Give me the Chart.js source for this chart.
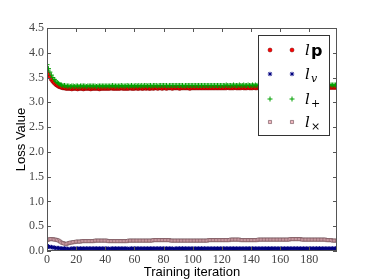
<!DOCTYPE html>
<html lang="en">
  <head>
    <meta charset="UTF-8" />
    <script src="https://cdn.jsdelivr.net/npm/chart.js@4.4.0/dist/chart.umd.min.js"></script>
    <title>Loss Value vs Training iteration</title>
    <style>
      body { margin: 0; padding: 0; background: #fff; }
      .container { width: 374px; height: 280px; position: relative; }
    </style>
  </head>
  <body>
    <div class="container">
      <canvas id="lossChart"></canvas>
    </div>
    <script>
      const yTicks = [0, 0.5, 1, 1.5, 2, 2.5, 3, 3.5, 4, 4.5]
      const xTicks = [0, 20, 40, 60, 80, 100, 120, 140, 160, 180]

      // l_p
      const lossP = [
        3.64,3.57,3.51,3.46,3.42,3.39,3.36,3.34,3.32,3.31,3.30,3.29,3.29,3.28,3.28,3.28,3.28,3.27,3.28,3.28,
        3.28,3.27,3.28,3.28,3.28,3.27,3.28,3.28,3.28,3.28,3.27,3.28,3.28,3.28,3.28,3.28,3.27,3.28,3.28,3.28,
        3.28,3.28,3.28,3.28,3.29,3.28,3.28,3.28,3.28,3.28,3.28,3.29,3.28,3.28,3.28,3.28,3.28,3.29,3.28,3.28,
        3.28,3.29,3.28,3.28,3.29,3.28,3.28,3.29,3.28,3.29,3.28,3.28,3.29,3.28,3.29,3.29,3.28,3.29,3.29,3.28,
        3.29,3.29,3.28,3.29,3.29,3.29,3.28,3.29,3.29,3.29,3.29,3.28,3.29,3.29,3.29,3.29,3.29,3.29,3.28,3.29,
        3.29,3.29,3.29,3.29,3.29,3.29,3.29,3.29,3.29,3.29,3.29,3.29,3.29,3.29,3.29,3.29,3.29,3.29,3.29,3.29,
        3.29,3.29,3.29,3.29,3.30,3.29,3.29,3.29,3.29,3.30,3.29,3.29,3.29,3.29,3.30,3.29,3.29,3.29,3.30,3.29,
        3.29,3.29,3.30,3.29,3.29,3.30,3.29,3.29,3.30,3.29,3.29,3.30,3.29,3.30,3.29,3.29,3.30,3.29,3.30,3.29,
        3.30,3.29,3.30,3.29,3.30,3.30,3.29,3.30,3.29,3.30,3.30,3.29,3.30,3.30,3.29,3.30,3.30,3.30,3.29,3.30,
        3.30,3.30,3.29,3.30,3.30,3.30,3.30,3.29,3.30,3.30,3.30,3.30,3.30,3.29,3.30,3.30,3.30,3.30,3.30,3.30
      ]
      // l_v
      const lossV = [
        0.10,0.09,0.08,0.08,0.07,0.07,0.06,0.06,0.06,0.05,0.05,0.05,0.05,0.05,0.04,0.04,0.04,0.05,0.05,0.05,
        0.05,0.05,0.05,0.05,0.05,0.05,0.05,0.05,0.05,0.05,0.05,0.05,0.05,0.05,0.05,0.05,0.05,0.05,0.05,0.05,
        0.05,0.05,0.05,0.04,0.05,0.05,0.05,0.05,0.05,0.05,0.05,0.05,0.05,0.05,0.05,0.05,0.04,0.05,0.05,0.05,
        0.05,0.05,0.05,0.05,0.05,0.05,0.05,0.05,0.05,0.05,0.05,0.05,0.05,0.05,0.05,0.05,0.05,0.05,0.05,0.05,
        0.05,0.05,0.05,0.05,0.05,0.05,0.05,0.04,0.05,0.05,0.05,0.05,0.05,0.05,0.05,0.05,0.05,0.05,0.05,0.05,
        0.05,0.05,0.05,0.05,0.05,0.05,0.05,0.05,0.05,0.05,0.05,0.05,0.05,0.05,0.05,0.05,0.05,0.05,0.05,0.05,
        0.05,0.05,0.05,0.05,0.05,0.05,0.05,0.05,0.05,0.05,0.05,0.05,0.05,0.05,0.05,0.05,0.05,0.05,0.05,0.05,
        0.05,0.05,0.05,0.05,0.05,0.05,0.05,0.05,0.05,0.05,0.05,0.05,0.05,0.05,0.05,0.05,0.05,0.05,0.05,0.05,
        0.05,0.05,0.05,0.05,0.05,0.05,0.05,0.05,0.05,0.05,0.05,0.05,0.05,0.05,0.05,0.05,0.05,0.05,0.05,0.05,
        0.05,0.05,0.05,0.05,0.05,0.05,0.05,0.05,0.05,0.05,0.05,0.05,0.05,0.05,0.05,0.05,0.05,0.05,0.05,0.05
      ]
      // l_+
      const lossPlus = [
        3.76,3.68,3.61,3.55,3.50,3.46,3.43,3.40,3.38,3.36,3.35,3.34,3.34,3.33,3.33,3.33,3.32,3.33,3.33,3.32,
        3.33,3.33,3.32,3.33,3.33,3.33,3.33,3.32,3.33,3.33,3.33,3.33,3.33,3.33,3.32,3.33,3.33,3.33,3.33,3.33,
        3.33,3.33,3.33,3.33,3.33,3.34,3.33,3.33,3.33,3.33,3.33,3.34,3.33,3.33,3.33,3.34,3.33,3.33,3.34,3.33,
        3.33,3.34,3.33,3.34,3.33,3.34,3.33,3.34,3.34,3.33,3.34,3.34,3.33,3.34,3.34,3.34,3.33,3.34,3.34,3.34,
        3.34,3.34,3.34,3.33,3.34,3.34,3.34,3.34,3.34,3.34,3.34,3.34,3.34,3.34,3.33,3.34,3.34,3.34,3.34,3.34,
        3.34,3.34,3.34,3.34,3.34,3.34,3.34,3.34,3.34,3.34,3.34,3.34,3.34,3.34,3.34,3.34,3.34,3.34,3.34,3.34,
        3.34,3.34,3.34,3.35,3.34,3.34,3.34,3.34,3.35,3.34,3.34,3.34,3.35,3.34,3.34,3.35,3.34,3.34,3.35,3.34,
        3.34,3.35,3.34,3.35,3.34,3.35,3.34,3.35,3.34,3.35,3.35,3.34,3.35,3.34,3.35,3.35,3.34,3.35,3.35,3.34,
        3.35,3.35,3.35,3.34,3.35,3.35,3.35,3.35,3.34,3.35,3.35,3.35,3.35,3.35,3.35,3.34,3.35,3.35,3.35,3.35,
        3.35,3.35,3.35,3.35,3.35,3.35,3.35,3.35,3.35,3.35,3.35,3.35,3.35,3.35,3.35,3.35,3.35,3.35,3.35,3.35
      ]
      // l_x
      const lossX = [
        0.22,0.23,0.24,0.24,0.24,0.23,0.23,0.22,0.21,0.19,0.17,0.16,0.15,0.14,0.15,0.16,0.17,0.17,0.18,0.18,
        0.19,0.19,0.19,0.19,0.20,0.20,0.20,0.20,0.20,0.20,0.20,0.20,0.20,0.21,0.21,0.21,0.21,0.21,0.21,0.21,
        0.21,0.21,0.20,0.20,0.20,0.20,0.20,0.20,0.20,0.20,0.20,0.20,0.20,0.20,0.20,0.20,0.21,0.21,0.21,0.21,
        0.21,0.21,0.21,0.21,0.21,0.21,0.21,0.21,0.21,0.21,0.21,0.21,0.21,0.22,0.22,0.22,0.22,0.22,0.22,0.22,
        0.22,0.22,0.22,0.22,0.22,0.21,0.21,0.21,0.21,0.21,0.21,0.21,0.21,0.21,0.21,0.21,0.21,0.21,0.21,0.21,
        0.21,0.21,0.21,0.21,0.21,0.21,0.21,0.21,0.21,0.21,0.21,0.22,0.22,0.22,0.22,0.22,0.22,0.22,0.22,0.22,
        0.22,0.22,0.22,0.22,0.22,0.22,0.23,0.23,0.23,0.23,0.23,0.23,0.23,0.22,0.22,0.22,0.22,0.22,0.22,0.22,
        0.22,0.22,0.22,0.22,0.22,0.23,0.23,0.23,0.23,0.23,0.23,0.23,0.23,0.23,0.23,0.23,0.23,0.23,0.23,0.23,
        0.23,0.23,0.23,0.23,0.23,0.23,0.23,0.24,0.24,0.24,0.24,0.24,0.24,0.24,0.24,0.23,0.23,0.23,0.23,0.23,
        0.23,0.23,0.23,0.23,0.23,0.23,0.23,0.23,0.23,0.23,0.23,0.23,0.22,0.22,0.22,0.22,0.21,0.21,0.21,0.21
      ]

      const toPoints = (arr) => arr.map((v, i) => ({ x: i, y: v }))

      const legendItems = [
        { sub: 'p', bold: true, style: 'circle', bg: '#ff0000', border: '#700000', r: 2, bw: 0.5 },
        { sub: 'v', style: 'star', bg: '#000080', border: '#000080', r: 2.2, bw: 1 },
        { sub: '+', style: 'cross', bg: '#00a000', border: '#00a000', r: 2.5, bw: 1 },
        { sub: '\u00d7', style: 'rect', bg: '#f0b8c0', border: '#6a4a50', r: 2.2, bw: 0.6 },
      ]

      // frame, inward ticks and the boxed legend
      const framePlugin = {
        id: 'frame',
        afterDraw(chart) {
          const { ctx, chartArea: a, scales } = chart
          ctx.save()
          ctx.strokeStyle = '#555'
          ctx.lineWidth = 1
          ctx.strokeRect(a.left + 0.5, a.top + 0.5, a.right - a.left - 1, a.bottom - a.top - 1)
          ctx.beginPath()
          xTicks.forEach((t) => {
            const x = Math.round(scales.x.getPixelForValue(t)) + 0.5
            ctx.moveTo(x, a.bottom); ctx.lineTo(x, a.bottom - 4)
            ctx.moveTo(x, a.top); ctx.lineTo(x, a.top + 4)
          })
          yTicks.forEach((t) => {
            const y = Math.round(scales.y.getPixelForValue(t)) + 0.5
            ctx.moveTo(a.left, y); ctx.lineTo(a.left + 4, y)
            ctx.moveTo(a.right, y); ctx.lineTo(a.right - 4, y)
          })
          ctx.stroke()

          // legend
          const lx = 258, ly = 35, lw = 71, lh = 100
          ctx.fillStyle = '#fff'
          ctx.fillRect(lx, ly, lw, lh)
          ctx.strokeStyle = '#333'
          ctx.strokeRect(lx + 0.5, ly + 0.5, lw, lh)
          const rows = [50, 74, 99, 122]
          legendItems.forEach((it, i) => {
            const y = rows[i]
            ;[270, 292].forEach((x) => {
              ctx.fillStyle = it.bg
              ctx.strokeStyle = it.border
              ctx.lineWidth = it.bw
              Chart.helpers.drawPoint(ctx, {
                pointStyle: it.style, radius: it.r, rotation: 0, borderWidth: it.bw,
              }, x, y)
            })
            ctx.fillStyle = '#000'
            ctx.textBaseline = 'alphabetic'
            ctx.textAlign = 'left'
            ctx.font = 'italic 15px "DejaVu Serif"'
            ctx.fillText('l', 305, y + 5)
            if (it.bold) {
              ctx.font = 'bold 16px "DejaVu Sans"'
              ctx.fillText(it.sub, 311, y + 6)
            } else {
              ctx.font = (it.sub === 'v' ? 'italic ' : '') + '11px "DejaVu Serif"'
              ctx.fillText(it.sub, 311, y + 8)
            }
          })
          ctx.restore()
        },
      }

      const tickFont = { family: '"Liberation Serif", serif', size: 12 }
      const titleFont = { family: '"Liberation Sans", Arial, sans-serif', size: 13 }

      new Chart(document.getElementById('lossChart'), {
        type: 'scatter',
        data: {
          datasets: legendItems.map((it, i) => ({
            label: 'l' + it.sub,
            data: toPoints([lossP, lossV, lossPlus, lossX][i]),
            showLine: false,
            pointStyle: it.style,
            pointRadius: it.r,
            pointBackgroundColor: it.bg,
            pointBorderColor: it.border,
            pointBorderWidth: it.bw,
            order: 4 - i,
          })),
        },
        options: {
          responsive: true,
          maintainAspectRatio: false,
          animation: false,
          layout: { padding: { left: 0, top: 28, right: 37, bottom: 0 } },
          plugins: { legend: { display: false }, tooltip: { enabled: false } },
          scales: {
            x: {
              type: 'linear',
              min: 0,
              max: 199,
              afterFit: (s) => { s.height = 29 },
              afterBuildTicks: (s) => { s.ticks = xTicks.map((v) => ({ value: v })) },
              grid: { display: false, drawTicks: false },
              border: { display: false },
              ticks: { font: tickFont, color: '#444', padding: 2, maxRotation: 0 },
              title: { display: true, text: 'Training iteration', font: titleFont, color: '#000', padding: { top: 0, bottom: 0 } },
            },
            y: {
              min: 0,
              max: 4.5,
              afterFit: (s) => { s.width = 47 },
              afterBuildTicks: (s) => { s.ticks = yTicks.map((v) => ({ value: v })) },
              grid: { display: false, drawTicks: false },
              border: { display: false },
              ticks: { font: tickFont, color: '#444', padding: 3, callback: (v) => v.toFixed(1) },
              title: { display: true, text: 'Loss Value', font: titleFont, color: '#000', padding: { top: 14, bottom: 0 } },
            },
          },
        },
        plugins: [framePlugin],
      })
    </script>
  </body>
</html>
